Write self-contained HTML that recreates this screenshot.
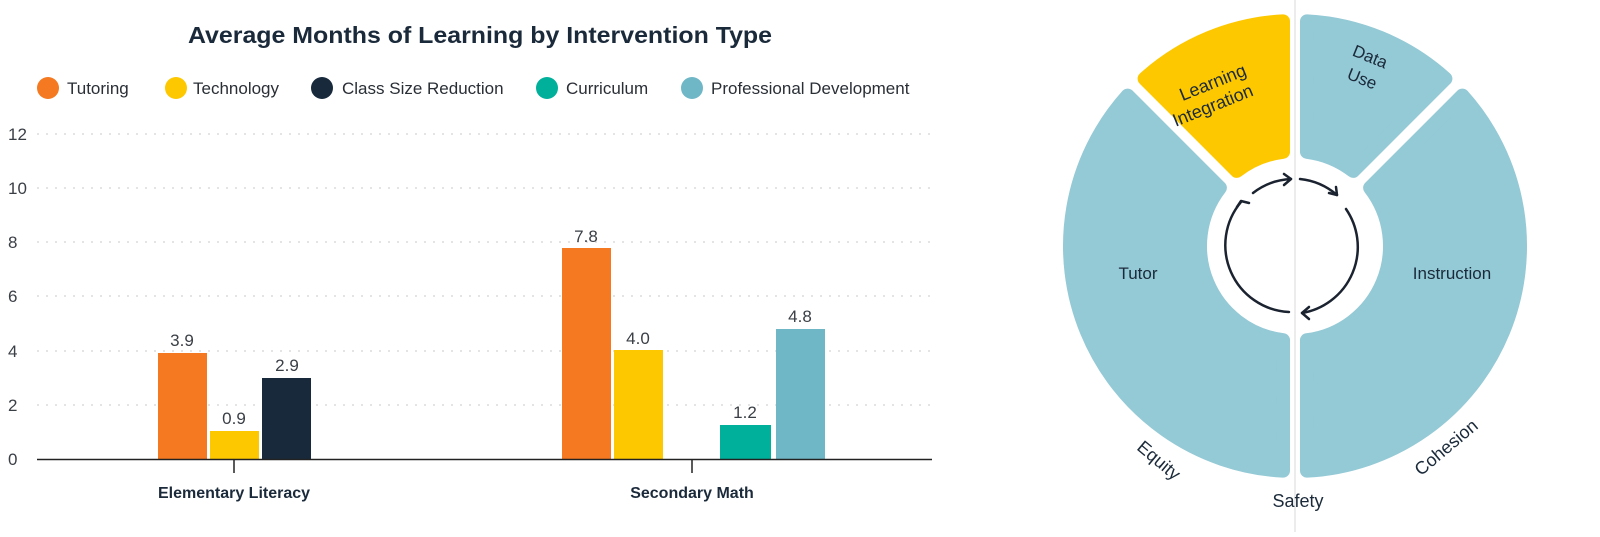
<!DOCTYPE html>
<html><head><meta charset="utf-8"><style>
body{margin:0;background:#fff;width:1600px;height:532px;overflow:hidden;font-family:"Liberation Sans",sans-serif}
</style></head><body>
<svg width="1600" height="532" xmlns="http://www.w3.org/2000/svg" font-family="Liberation Sans, sans-serif">
<text x="480" y="43" text-anchor="middle" font-size="23" font-weight="bold" fill="#1b2a3a" textLength="584" lengthAdjust="spacingAndGlyphs">Average Months of Learning by Intervention Type</text>
<g font-size="17" fill="#2a2f36">
<circle cx="48" cy="88" r="11" fill="#f47920"/><text x="67" y="94">Tutoring</text>
<circle cx="176" cy="88" r="11" fill="#fdc800"/><text x="193" y="94">Technology</text>
<circle cx="322" cy="88" r="11" fill="#17293a"/><text x="342" y="94">Class Size Reduction</text>
<circle cx="547" cy="88" r="11" fill="#00b09b"/><text x="566" y="94">Curriculum</text>
<circle cx="692" cy="88" r="11" fill="#6fb7c7"/><text x="711" y="94">Professional Development</text>
</g>
<g stroke="#c8c8c8" stroke-dasharray="2 7" stroke-width="1">
<line x1="37" x2="932" y1="134" y2="134"/><line x1="37" x2="932" y1="188" y2="188"/><line x1="37" x2="932" y1="242" y2="242"/><line x1="37" x2="932" y1="296" y2="296"/><line x1="37" x2="932" y1="351" y2="351"/><line x1="37" x2="932" y1="405" y2="405"/>
</g>
<g font-size="17" fill="#3a3f46">
<text x="8" y="140">12</text><text x="8" y="194">10</text><text x="8" y="248">8</text><text x="8" y="302">6</text><text x="8" y="357">4</text><text x="8" y="411">2</text><text x="8" y="465">0</text>
</g>
<rect x="158" y="353" width="49" height="106" fill="#f47920"/>
<rect x="210" y="431" width="49" height="28" fill="#fdc800"/>
<rect x="262" y="378" width="49" height="81" fill="#17293a"/>
<rect x="562" y="248" width="49" height="211" fill="#f47920"/>
<rect x="614" y="350" width="49" height="109" fill="#fdc800"/>
<rect x="720" y="425" width="51" height="34" fill="#00b09b"/>
<rect x="776" y="329" width="49" height="130" fill="#6fb7c7"/>
<g font-size="17" fill="#3a3f46" text-anchor="middle">
<text x="182" y="346">3.9</text><text x="234" y="424">0.9</text><text x="287" y="371">2.9</text>
<text x="586" y="242">7.8</text><text x="638" y="344">4.0</text><text x="745" y="418">1.2</text><text x="800" y="322">4.8</text>
</g>
<line x1="37" x2="932" y1="459.5" y2="459.5" stroke="#222" stroke-width="1.5"/>
<line x1="234" x2="234" y1="459" y2="473" stroke="#222" stroke-width="1.5"/>
<line x1="692" x2="692" y1="459" y2="473" stroke="#222" stroke-width="1.5"/>
<g font-size="16" font-weight="bold" fill="#1b2a3a" text-anchor="middle">
<text x="234" y="498">Elementary Literacy</text><text x="692" y="498">Secondary Math</text>
</g>
<line x1="1295" x2="1295" y1="0" y2="532" stroke="#e6e6e6" stroke-width="1.5"/>
<g id="wheel"></g>
<g fill="none" stroke="#1b2330" stroke-width="2.5" stroke-linecap="round" stroke-linejoin="round">
<path d="M1289 312 A67 67 0 0 1 1241 202"/>
<path d="M1253 193 A67 67 0 0 1 1291 179"/>
<path d="M1300 179 A67 67 0 0 1 1337 195"/>
<path d="M1346 209 A67 67 0 0 1 1302 313"/>
<polyline points="1284,174 1291,179 1284,185"/>
<polyline points="1329,193 1337,195 1336,187"/>
<polyline points="1309,307 1302,313 1309,319"/>
<polyline points="1237,207 1241,201 1249,203"/>
</g>
<g font-size="17" fill="#1b2a3a" text-anchor="middle">
<text x="1138" y="279">Tutor</text><text x="1452" y="279">Instruction</text>
<text transform="translate(1215,88) rotate(-22)" font-size="18">Learning</text>
<text transform="translate(1215,111) rotate(-22)" font-size="18">Integration</text>
<text transform="translate(1368,62) rotate(22)">Data</text>
<text transform="translate(1360,84) rotate(22)">Use</text>
<text transform="translate(1155,465) rotate(40)" font-size="18">Equity</text>
<text x="1298" y="507" font-size="18">Safety</text>
<text transform="translate(1450,452) rotate(-40)" font-size="18">Cohesion</text>
</g>
</svg>
<script>
(function(){
var cx=1295,cy=246,R=232,r=88,g=document.getElementById('wheel');
function pt(rad,a){a=(a-90)*Math.PI/180;return [cx+rad*Math.cos(a),cy+rad*Math.sin(a)];}
function seg(a0,a1,col){
 var sw=14,gap=5+sw/2,ro=R-sw/2,ri=r+sw/2;
 var o0=a0+gap/ro*180/Math.PI,o1=a1-gap/ro*180/Math.PI,i0=a0+gap/ri*180/Math.PI,i1=a1-gap/ri*180/Math.PI;
 var p1=pt(ro,o0),p2=pt(ro,o1),p3=pt(ri,i1),p4=pt(ri,i0);
 var lg=(a1-a0)>180?1:0;
 var d='M'+p1+' A'+ro+' '+ro+' 0 '+lg+' 1 '+p2+' L'+p3+' A'+ri+' '+ri+' 0 '+lg+' 0 '+p4+' Z';
 var e=document.createElementNS('http://www.w3.org/2000/svg','path');
 e.setAttribute('d',d);e.setAttribute('fill',col);e.setAttribute('stroke',col);e.setAttribute('stroke-width',sw);e.setAttribute('stroke-linejoin','round');
 g.appendChild(e);}
seg(-45,0,'#fdc800');seg(0,45,'#94c9d6');seg(45,180,'#94c9d6');seg(180,315,'#94c9d6');
})();
</script>
</body></html>
